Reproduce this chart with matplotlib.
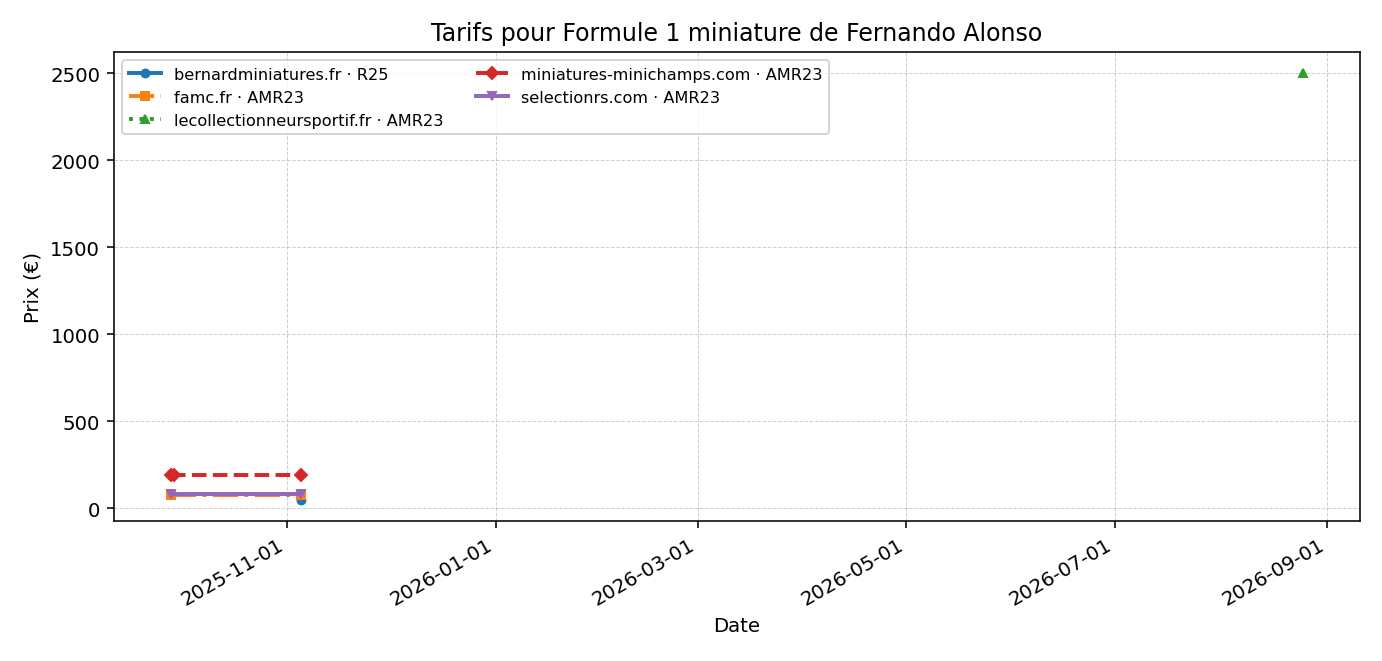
import pandas as pd
import matplotlib
matplotlib.use('Agg')
import matplotlib.pyplot as plt
import matplotlib.dates as mdates

# Prix relevés par boutique
bernard_dates = ['2025-11-05']
bernard_prix = [50]

famc_dates = ['2025-09-28', '2025-11-05']
famc_prix = [75, 75]

lecollection_dates = ['2026-08-25']
lecollection_prix = [2500]

minichamps_dates = ['2025-09-28', '2025-09-29', '2025-11-05']
minichamps_prix = [190, 190, 190]

selections_dates = ['2025-09-28', '2025-11-05']
selections_prix = [82, 82]

series = [
    ('bernardminiatures.fr · R25', bernard_dates, bernard_prix, '-', 'o'),
    ('famc.fr · AMR23', famc_dates, famc_prix, '-.', 's'),
    ('lecollectionneursportif.fr · AMR23', lecollection_dates, lecollection_prix, ':', '^'),
    ('miniatures-minichamps.com · AMR23', minichamps_dates, minichamps_prix, '--', 'D'),
    ('selectionrs.com · AMR23', selections_dates, selections_prix, '-', 'v'),
]

fig, ax = plt.subplots(figsize=(1382 / 142, 662 / 142), dpi=142)

for label, dates, prix, ls, mk in series:
    ax.plot(pd.to_datetime(dates), prix, linestyle=ls, marker=mk,
            linewidth=2, markersize=4, label=label)

ax.set_title('Tarifs pour Formule 1 miniature de Fernando Alonso', fontsize=12)
ax.set_xlabel('Date')
ax.set_ylabel('Prix (€)')
ax.grid(True, linestyle='--', linewidth=0.5, alpha=0.6)
ax.xaxis.set_major_locator(mdates.MonthLocator(bymonth=[1, 3, 5, 7, 9, 11]))
ax.xaxis.set_major_formatter(mdates.DateFormatter('%Y-%m-%d'))
ax.legend(loc='upper left', ncol=2, fontsize=8.2)
fig.autofmt_xdate()

fig.subplots_adjust(left=0.0825, right=0.984, top=0.92, bottom=0.2115)
plt.savefig('out.png', dpi=142)
